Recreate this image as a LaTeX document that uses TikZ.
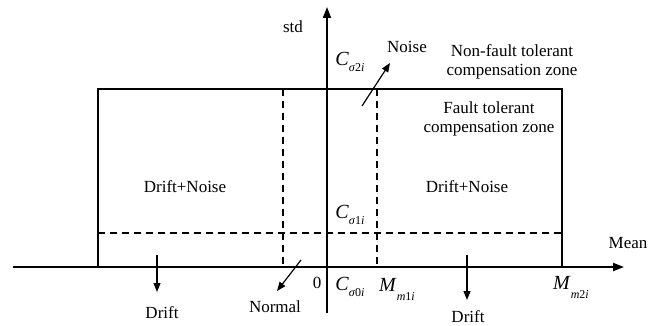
\documentclass[tikz,border=0pt]{standalone}
\usepackage{fontspec}
\setmainfont{Liberation Serif}
\usetikzlibrary{arrows.meta}
\newcommand\lbsym[3]{{\fontsize{20}{22}\selectfont\textit{#1}}\raisebox{-#3}{\fontsize{12}{13}\selectfont #2}}
\tikzset{
  axisline/.style={line width=1.7pt,-{Triangle[length=11pt,width=8pt]}},
  boxline/.style={line width=1.2pt},
  dashline/.style={line width=1.2pt,dash pattern=on 7pt off 5pt},
  smallarrow/.style={line width=1.2pt,-{Triangle[length=9pt,width=7pt]}},
  lbl/.style={inner sep=0pt,font=\fontsize{17}{19}\selectfont,align=center},
}
\begin{document}
\begin{tikzpicture}[x=1pt,y=-1pt]
\useasboundingbox (0,0) rectangle (661,326);
% axes
\coordinate (xs) at (13,267);
\coordinate (xe) at (624,267);
\coordinate (ys) at (327,313);
\coordinate (ye) at (327,7);
\draw[axisline] (xs) -- (xe);
\draw[axisline] (ys) -- (ye);
% rectangle
\coordinate (rtl) at (98,89);
\coordinate (rbr) at (562,267);
\draw[boxline] (98,267) -- (rtl) -- (562,89) -- (rbr);
% dashed lines
\coordinate (hl) at (98,233);
\coordinate (hr) at (562,233);
\draw[dashline] (hl) -- (hr);
\coordinate (v1t) at (283,89);
\coordinate (v1b) at (283,267);
\coordinate (v2t) at (377,89);
\coordinate (v2b) at (377,267);
\draw[dashline] (v1t) -- (v1b);
\draw[dashline] (v2t) -- (v2b);
% labels
\node[lbl] (std) at (293,27) {std};
\node[lbl] (cs2) at (350,62) {\lbsym{C}{\textit{σ}2\textit{i}}{6pt}};
\node[lbl] (noise) at (407,47) {Noise};
\node[lbl] (nonft) at (512,62) {Non-fault tolerant\\compensation zone};
\node[lbl] (ft) at (489,119) {Fault tolerant\\compensation zone};
\node[lbl] (dn1) at (185,187) {Drift+Noise};
\node[lbl] (dn2) at (467,187) {Drift+Noise};
\node[lbl] (cs1) at (350,215) {\lbsym{C}{\textit{σ}1\textit{i}}{6pt}};
\node[lbl] (mean) at (628,243) {Mean};
\node[lbl] (zero) at (317,283) {0};
\node[lbl] (cs0) at (350,287) {\lbsym{C}{\textit{σ}0\textit{i}}{6pt}};
\node[lbl] (mm1) at (397,289) {\lbsym{M}{\textit{m}1\textit{i}}{9pt}};
\node[lbl] (mm2) at (571,287) {\lbsym{M}{\textit{m}2\textit{i}}{9pt}};
\node[lbl] (normal) at (275,307) {Normal};
\node[lbl] (drift1) at (162,313) {Drift};
\node[lbl] (drift2) at (468,317) {Drift};
% small arrows
\coordinate (na0) at (362,106);
\coordinate (na1) at (390,63);
\draw[smallarrow] (na0) -- (na1);
\coordinate (nr0) at (301,260);
\coordinate (nr1) at (277,291);
\draw[smallarrow] (nr0) -- (nr1);
\coordinate (d10) at (157,255);
\coordinate (d11) at (157,292);
\draw[smallarrow] (d10) -- (d11);
\coordinate (d20) at (467,255);
\coordinate (d21) at (467,300);
\draw[smallarrow] (d20) -- (d21);
\end{tikzpicture}
\end{document}
